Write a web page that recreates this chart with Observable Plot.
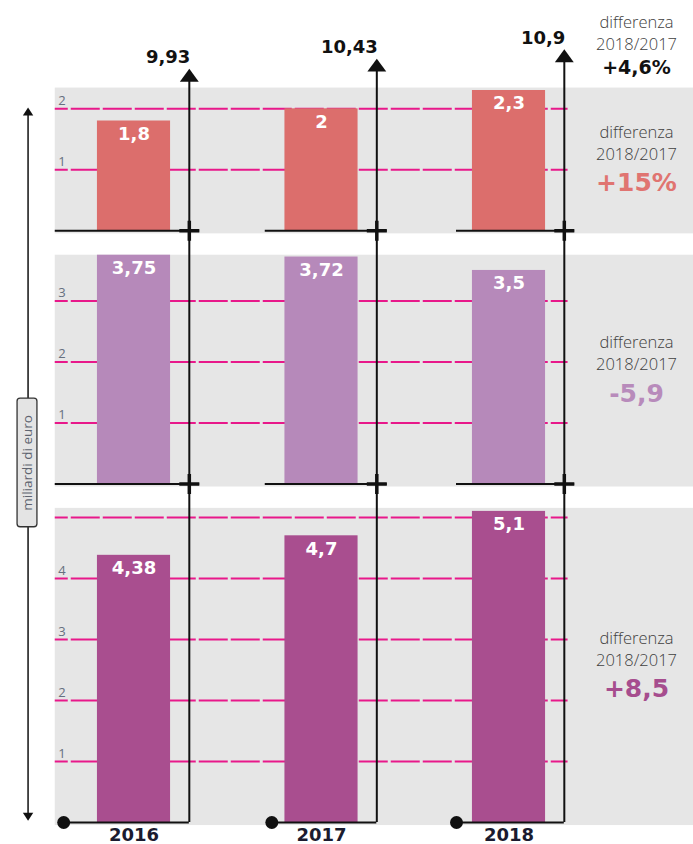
<!DOCTYPE html>
<html>
<head>
<meta charset="utf-8">
<script src="https://cdn.jsdelivr.net/npm/d3@7"></script>
<script src="https://cdn.jsdelivr.net/npm/@observablehq/plot@0.6"></script>
<style>
  html, body { margin: 0; padding: 0; background: #fff; }
  #chart svg { display: block; }
</style>
</head>
<body>
<div id="chart"></div>
<script>
// ---------------- DATA ----------------
const years = ["2016", "2017", "2018"];
const seriesTop = [1.8, 2, 2.3];          // salmon panel
const seriesMid = [3.75, 3.72, 3.5];      // light purple panel
const seriesBottom = [4.38, 4.7, 5.1];    // purple panel
const totals = [9.93, 10.43, 10.9];
const totalDiff = "+4,6%";
const panelDiffs = ["+15%", "-5,9", "+8,5"];
const ticksTop = [1, 2];
const ticksMid = [1, 2, 3];
const ticksBottom = [1, 2, 3, 4];
const gridBottomExtra = [5];              // unlabeled top gridline
const diffLines = ["differenza", "2018/2017"];
const unitLabel = "miliardi di euro";

// ---------------- LAYOUT (units of the chart scales) ----------------
const W = 693, H = 844;
const PX_PER_UNIT = 61, BASE_PX = 822;           // y scale
const X_STEP = 187.5, X0 = 133.5;                // x scale (year index)
const xDomain = [-X0 / X_STEP, (W - X0) / X_STEP];
const yDomain = [-(H - BASE_PX) / PX_PER_UNIT, BASE_PX / PX_PER_UNIT];
const GAP = 0.4;
const heights = [2.34, 3.75, 5.15];
const baseBottom = 0;
const baseMid = baseBottom + heights[2] + GAP;
const baseTop = baseMid + heights[1] + GAP;
const BAR_HALF = 0.195;
const ARROW_DX = 0.295;
const GRAY_LEFT = -0.42;
const GRID_RIGHT = 2 + ARROW_DX + 0.02;
const LINE_START = [GRAY_LEFT, -0.30, -0.28];    // offsets from year centre
const DOT_DX = [-0.375, -0.265, -0.28];          // offsets from year centre
const TIP_BASE = 9.08, TIP_SCALE = 0.33;
const RIGHT_X = 2.68;
const AXIS_X = -0.565;

const DV = "DejaVu Sans";
const OS = "'Open Sans', 'Noto Sans', sans-serif";
const fmt = v => String(v).replace(".", ",");

const panels = [
  {values: seriesTop, ticks: ticksTop, grid: ticksTop, diff: panelDiffs[0], base: baseTop, h: heights[0], bar: "#dc6e6c", text: "#e07471"},
  {values: seriesMid, ticks: ticksMid, grid: ticksMid, diff: panelDiffs[1], base: baseMid, h: heights[1], bar: "#b689ba", text: "#b88bbb"},
  {values: seriesBottom, ticks: ticksBottom, grid: [...ticksBottom, ...gridBottomExtra], diff: panelDiffs[2], base: baseBottom, h: heights[2], bar: "#a94e8f", text: "#a64d8e"}
];

const bars = panels.flatMap(p => p.values.map((v, i) => ({i, value: v, base: p.base, fill: p.bar})));
const grid = panels.flatMap(p => p.grid.map(t => ({y: p.base + t})));
const tickLabels = panels.flatMap(p => p.ticks.map(t => ({y: p.base + t, label: String(t)})));
const arrows = years.map((yr, i) => ({i, x: i + ARROW_DX, total: totals[i], tip: TIP_BASE + TIP_SCALE * totals[i]}));
const baselines = panels.flatMap((p, k) => years.map((yr, i) => ({
  y: p.base,
  x1: i + (k < 2 ? LINE_START[i] : DOT_DX[i]),
  x2: i + ARROW_DX + (k < 2 ? 0.055 : 0)
})));
const crosses = panels.slice(0, 2).flatMap(p => years.map((yr, i) => ({x: i + ARROW_DX, y: p.base})));
const dots = years.map((yr, i) => ({x: i + DOT_DX[i]}));

// right-hand text blocks: anchor y (data units) for each block
const blocks = [
  {y: baseTop + heights[0], label: totalDiff, fill: "#111", top: true},
  ...panels.map(p => ({y: p.base + p.h / 2, label: p.diff, fill: p.text, top: false}))
];

// custom arrowhead symbols (apex at the point)
const headUp = (w, h) => ({draw(ctx, size) { const r = Math.sqrt(size / Math.PI); ctx.moveTo(0, 0); ctx.lineTo(-w * r, h * r); ctx.lineTo(w * r, h * r); ctx.closePath(); }});
const headDown = (w, h) => ({draw(ctx, size) { const r = Math.sqrt(size / Math.PI); ctx.moveTo(0, 0); ctx.lineTo(-w * r, -h * r); ctx.lineTo(w * r, -h * r); ctx.closePath(); }});

const axisTop = 11.72, axisBottom = 0.03;
const box = {x1: -0.621, x2: -0.515, y1: 4.84, y2: 6.95};

const smallStyle = {x: () => RIGHT_X, y: "y", fill: "#404040", fontSize: 16.5, fontWeight: 300, fontFamily: OS};

const chart = Plot.plot({
  width: W,
  height: H,
  margin: 0,
  style: {background: "#fff", fontFamily: OS},
  x: {domain: xDomain, range: [0, W], axis: null},
  y: {domain: yDomain, range: [H, 0], axis: null},
  marks: [
    // gray panels
    Plot.rect(panels, {x1: () => GRAY_LEFT, x2: () => xDomain[1], y1: d => d.base - 0.05, y2: d => d.base + d.h, fill: "#e6e6e6"}),
    // dashed gridlines
    Plot.ruleY(grid, {y: "y", x1: () => GRAY_LEFT, x2: () => GRID_RIGHT, stroke: "#e8188a", strokeWidth: 2, strokeDasharray: "29,3", strokeDashoffset: 16}),
    // tick labels
    Plot.text(tickLabels, {x: () => GRAY_LEFT, y: "y", text: "label", dx: 3, dy: -8, textAnchor: "start", fontSize: 13, fill: "#66707f", fontFamily: OS}),
    // bars
    Plot.rect(bars, {x1: d => d.i - BAR_HALF, x2: d => d.i + BAR_HALF, y1: "base", y2: d => d.base + d.value, fill: "fill"}),
    // bar labels
    Plot.text(bars, {x: "i", y: d => d.base + d.value, dy: 13, text: d => fmt(d.value), fill: "#fff", fontSize: 18, fontWeight: "bold", fontFamily: DV}),
    // baselines
    Plot.ruleY(baselines, {y: "y", x1: "x1", x2: "x2", stroke: "#111", strokeWidth: 2}),
    // vertical total arrows
    Plot.ruleX(arrows, {x: "x", y1: () => baseBottom, y2: d => d.tip - 0.1, stroke: "#111", strokeWidth: 2}),
    Plot.dot(arrows, {x: "x", y: "tip", r: 7, symbol: headUp(1.35, 1.85), fill: "#111", stroke: null}),
    // crosses
    Plot.dot(crosses, {x: "x", y: "y", r: 6.5, symbol: "plus", stroke: "#111", strokeWidth: 3.5}),
    // bottom dots
    Plot.dot(dots, {x: "x", y: () => baseBottom, r: 6.5, fill: "#111", stroke: null}),
    // totals labels
    Plot.text(arrows, {x: "x", y: "tip", dy: -11, dx: 1, textAnchor: "end", text: d => fmt(d.total), fontSize: 18, fontWeight: "bold", fill: "#111", fontFamily: DV}),
    // year labels
    Plot.text(years, {x: (d, i) => i, y: () => baseBottom, dy: 13, text: d => d, fontSize: 18, fontWeight: "bold", fill: "#1b1b2f", fontFamily: DV}),
    // right-side texts: top block
    Plot.text(blocks.filter(b => b.top), {...smallStyle, dy: -65, text: () => diffLines[0]}),
    Plot.text(blocks.filter(b => b.top), {...smallStyle, dy: -43, text: () => diffLines[1]}),
    Plot.text(blocks.filter(b => b.top), {x: () => RIGHT_X, y: "y", dy: -20, text: "label", fill: "fill", fontSize: 19, fontWeight: "bold", fontFamily: DV}),
    // right-side texts: panel blocks
    Plot.text(blocks.filter(b => !b.top), {...smallStyle, dy: -27, text: () => diffLines[0]}),
    Plot.text(blocks.filter(b => !b.top), {...smallStyle, dy: -5, text: () => diffLines[1]}),
    Plot.text(blocks.filter(b => !b.top), {x: () => RIGHT_X, y: "y", dy: 24, text: "label", fill: "fill", fontSize: 25, fontWeight: "bold", fontFamily: DV}),
    // left unit axis
    Plot.ruleX([0], {x: () => AXIS_X, y1: () => axisBottom + 0.1, y2: () => axisTop - 0.1, stroke: "#111", strokeWidth: 1.5}),
    Plot.dot([0], {x: () => AXIS_X, y: () => axisTop, r: 4, symbol: headUp(1.3, 2.0), fill: "#111", stroke: null}),
    Plot.dot([0], {x: () => AXIS_X, y: () => axisBottom, r: 4, symbol: headDown(1.3, 2.0), fill: "#111", stroke: null}),
    Plot.rect([box], {x1: "x1", x2: "x2", y1: "y1", y2: "y2", fill: "#e4e4e4", stroke: "#333", strokeWidth: 1.3, rx: 3}),
    Plot.text([unitLabel], {x: () => (box.x1 + box.x2) / 2, y: () => (box.y1 + box.y2) / 2, text: d => d, rotate: -90, fontSize: 13.5, fill: "#5f6470", fontFamily: OS})
  ]
});

document.getElementById("chart").appendChild(chart);
</script>
</body>
</html>
